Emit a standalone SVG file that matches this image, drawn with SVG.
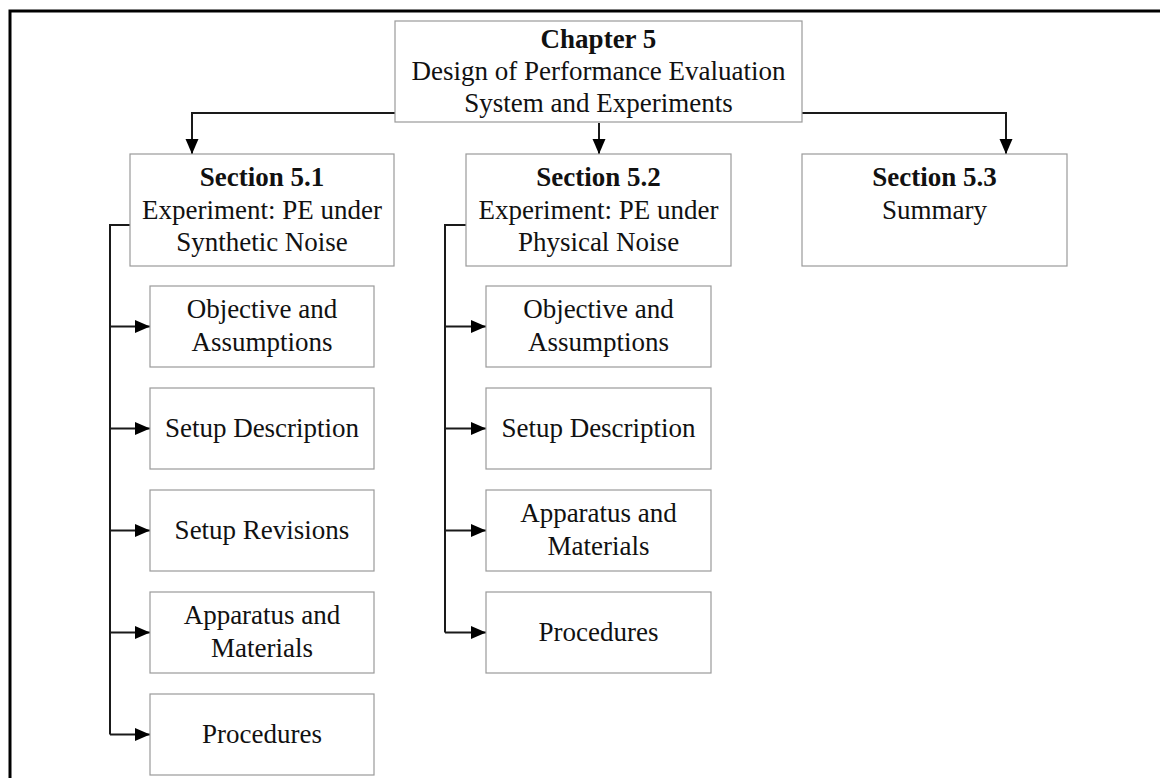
<svg xmlns="http://www.w3.org/2000/svg" width="1160" height="778" viewBox="0 0 1160 778">
  <defs>
    <marker id="arrow" markerUnits="userSpaceOnUse" markerWidth="16" markerHeight="14" refX="15" refY="6.5" orient="auto">
      <path d="M0,0 L15,6.5 L0,13 Z" fill="#000"/>
    </marker>
    <style>
      .box { fill: #fff; stroke: #9a9a9a; stroke-width: 1.2; }
      .t { font-family: "Liberation Serif", "Times New Roman", serif; font-size: 27px; fill: #111; text-anchor: middle; }
      .b { font-weight: bold; }
      .link { fill: none; stroke: #1a1a1a; stroke-width: 2; }
      .frame { fill: none; stroke: #000; stroke-width: 3; }
    </style>
  </defs>
  <rect width="1160" height="778" fill="#fff"/>
  <!-- page frame (top and left edges) -->
  <path class="frame" d="M10,778 V11 H1160"/>

  <g id="connectors">
    <path class="link" d="M395,113 H192 V154" marker-end="url(#arrow)"/>
    <path class="link" d="M599,123 V154" marker-end="url(#arrow)"/>
    <path class="link" d="M802,113 H1006 V154" marker-end="url(#arrow)"/>
    <path class="link" d="M130,225 H110 V734.5"/>
    <path class="link" d="M110,326.5 H150" marker-end="url(#arrow)"/>
    <path class="link" d="M110,428.5 H150" marker-end="url(#arrow)"/>
    <path class="link" d="M110,530.5 H150" marker-end="url(#arrow)"/>
    <path class="link" d="M110,632.5 H150" marker-end="url(#arrow)"/>
    <path class="link" d="M110,734.5 H150" marker-end="url(#arrow)"/>
    <path class="link" d="M466,225 H445 V632.5"/>
    <path class="link" d="M445,326.5 H486" marker-end="url(#arrow)"/>
    <path class="link" d="M445,428.5 H486" marker-end="url(#arrow)"/>
    <path class="link" d="M445,530.5 H486" marker-end="url(#arrow)"/>
    <path class="link" d="M445,632.5 H486" marker-end="url(#arrow)"/>
  </g>

  <g id="chapter5">
    <rect class="box" x="395" y="21" width="407" height="101"/>
    <text class="t b" x="598.5" y="48">Chapter 5</text>
    <text class="t" x="598.5" y="80">Design of Performance Evaluation</text>
    <text class="t" x="598.5" y="112">System and Experiments</text>
  </g>

  <g id="section51">
    <rect class="box" x="130" y="154" width="264" height="112"/>
    <text class="t b" x="262" y="186">Section 5.1</text>
    <text class="t" x="262" y="219">Experiment: PE under</text>
    <text class="t" x="262" y="251">Synthetic Noise</text>
  </g>

  <g id="section52">
    <rect class="box" x="466" y="154" width="265" height="112"/>
    <text class="t b" x="598.5" y="186">Section 5.2</text>
    <text class="t" x="598.5" y="219">Experiment: PE under</text>
    <text class="t" x="598.5" y="251">Physical Noise</text>
  </g>

  <g id="section53">
    <rect class="box" x="802" y="154" width="265" height="112"/>
    <text class="t b" x="934.5" y="186">Section 5.3</text>
    <text class="t" x="934.5" y="219">Summary</text>
  </g>

  <g id="s51-objective">
    <rect class="box" x="150" y="286" width="224" height="81"/>
    <text class="t" x="262" y="318">Objective and</text>
    <text class="t" x="262" y="351">Assumptions</text>
  </g>
  <g id="s51-setup-description">
    <rect class="box" x="150" y="388" width="224" height="81"/>
    <text class="t" x="262" y="437">Setup Description</text>
  </g>
  <g id="s51-setup-revisions">
    <rect class="box" x="150" y="490" width="224" height="81"/>
    <text class="t" x="262" y="539">Setup Revisions</text>
  </g>
  <g id="s51-apparatus">
    <rect class="box" x="150" y="592" width="224" height="81"/>
    <text class="t" x="262" y="624">Apparatus and</text>
    <text class="t" x="262" y="657">Materials</text>
  </g>
  <g id="s51-procedures">
    <rect class="box" x="150" y="694" width="224" height="81"/>
    <text class="t" x="262" y="743">Procedures</text>
  </g>

  <g id="s52-objective">
    <rect class="box" x="486" y="286" width="225" height="81"/>
    <text class="t" x="598.5" y="318">Objective and</text>
    <text class="t" x="598.5" y="351">Assumptions</text>
  </g>
  <g id="s52-setup-description">
    <rect class="box" x="486" y="388" width="225" height="81"/>
    <text class="t" x="598.5" y="437">Setup Description</text>
  </g>
  <g id="s52-apparatus">
    <rect class="box" x="486" y="490" width="225" height="81"/>
    <text class="t" x="598.5" y="522">Apparatus and</text>
    <text class="t" x="598.5" y="555">Materials</text>
  </g>
  <g id="s52-procedures">
    <rect class="box" x="486" y="592" width="225" height="81"/>
    <text class="t" x="598.5" y="641">Procedures</text>
  </g>
</svg>
